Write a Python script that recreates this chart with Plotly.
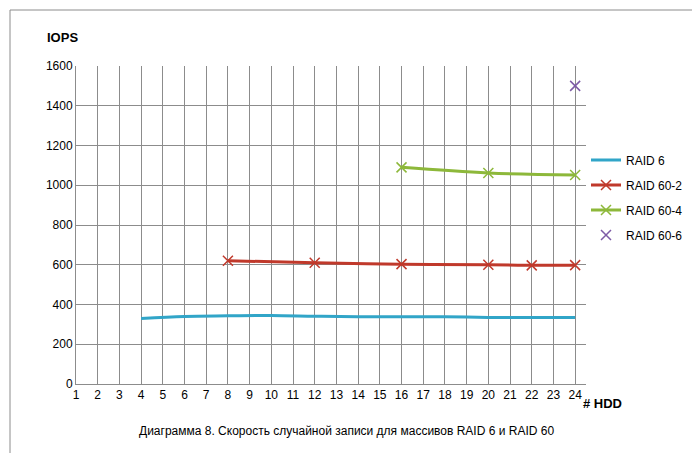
import plotly.graph_objects as go

x_raid6 = [4, 6, 8, 10, 12, 14, 16, 18, 20, 22, 24]
y_raid6 = [330, 340, 343, 345, 341, 338, 338, 338, 335, 335, 335]
x_raid60_2 = [8, 12, 16, 20, 22, 24]
y_raid60_2 = [620, 610, 603, 600, 597, 598]
x_raid60_4 = [16, 20, 24]
y_raid60_4 = [1090, 1062, 1052]
x_raid60_6 = [24]
y_raid60_6 = [1500]

fig = go.Figure()
fig.add_trace(go.Scatter(x=x_raid6, y=y_raid6, name="RAID 6", mode="lines", legendgroup="a",
                         line=dict(color="#31A5C8", width=3, shape="spline")))
fig.add_trace(go.Scatter(x=x_raid60_2, y=y_raid60_2, name="RAID 60-2", mode="lines+markers", legendgroup="b",
                         line=dict(color="#C0392B", width=3, shape="spline"),
                         marker=dict(symbol="x-thin", size=10, line=dict(width=1.5, color="#C0392B"))))
fig.add_trace(go.Scatter(x=x_raid60_4, y=y_raid60_4, name="RAID 60-4", mode="lines+markers", legendgroup="c",
                         line=dict(color="#8DB83A", width=3, shape="spline"),
                         marker=dict(symbol="x-thin", size=10, line=dict(width=1.5, color="#8DB83A"))))
fig.add_trace(go.Scatter(x=x_raid60_6, y=y_raid60_6, name="RAID 60-6", mode="markers", legendgroup="d",
                         marker=dict(symbol="x-thin", size=10, color="#7D5BA6", line=dict(width=1.5, color="#7D5BA6"))))

fig.update_layout(
    width=700, height=453, paper_bgcolor="white", plot_bgcolor="white",
    margin=dict(l=68, r=122, t=58, b=77),
    font=dict(family="Liberation Sans, Arial", size=12, color="#000"),
    legend=dict(x=1.0, y=0.75, yanchor="top", font=dict(size=12), tracegroupgap=6),
    xaxis=dict(range=[1, 24.5], tickmode="linear", tick0=1, dtick=1, showgrid=True,
               gridcolor="#8c8c8c", gridwidth=1, showline=True, linecolor="#8c8c8c",
               zeroline=False, ticks=""),
    yaxis=dict(range=[0, 1600], dtick=200, showgrid=True, gridcolor="#8c8c8c",
               showline=True, linecolor="#8c8c8c", zeroline=False),
    shapes=[dict(type="rect", xref="paper", yref="paper",
                 x0=-66 / 510, x1=(700 - 68 - 2) / 510, y0=-(77 - 2) / 318, y1=(318 + 58 - 2) / 318,
                 line=dict(color="#8c8c8c", width=1))],
    annotations=[
        dict(text="<b>IOPS</b>", xref="paper", yref="paper", x=-0.06, y=1.06, showarrow=False,
             font=dict(size=13), xanchor="left", yanchor="bottom"),
        dict(text="<b># HDD</b>", xref="paper", yref="paper", x=0.99, y=-0.03, showarrow=False,
             font=dict(size=13), xanchor="left", yanchor="top"),
        dict(text="Диаграмма 8. Скорость случайной записи для массивов RAID 6 и RAID 60",
             xref="paper", yref="paper", x=0.53, y=-0.12, showarrow=False, font=dict(size=12),
             xanchor="center", yanchor="top"),
    ],
)
fig.write_html("out.html")
